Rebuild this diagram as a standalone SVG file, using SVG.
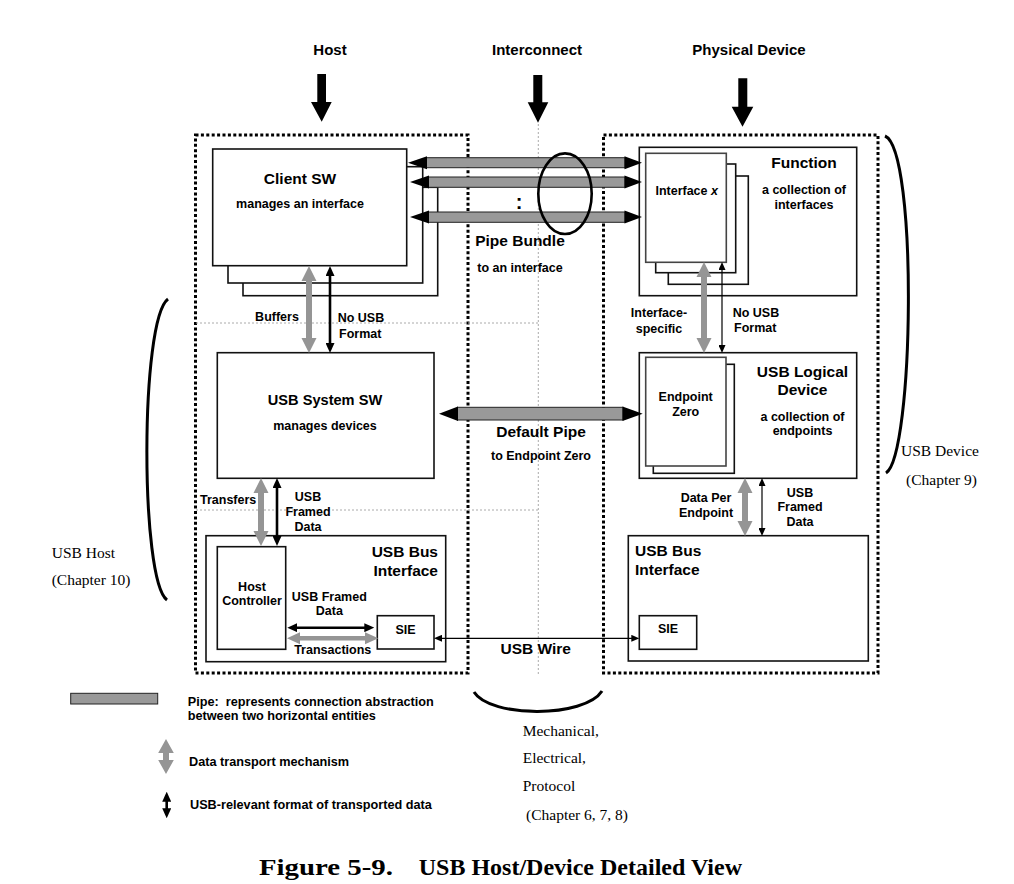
<svg xmlns="http://www.w3.org/2000/svg" width="1014" height="884" viewBox="0 0 1014 884">
<style>
.bx{fill:#fff;stroke:#111;stroke-width:1.6}
.ibx{fill:#fff;stroke:#444;stroke-width:1.6}
.dot{fill:none;stroke:#000;stroke-width:3;stroke-dasharray:3 2.4}
.gdot{fill:none;stroke:#aaa;stroke-width:1;stroke-dasharray:2 2}
.pipe{fill:#999;stroke:#222;stroke-width:1}
.ph{fill:#000}
.ga{fill:#959595}
.bk{stroke:#000;stroke-width:2.6;fill:none;marker-start:url(#hk);marker-end:url(#hk)}
.bt{stroke:#000;stroke-width:1.2;fill:none;marker-start:url(#ht);marker-end:url(#ht)}
.brk{fill:none;stroke:#000;stroke-width:3}
text{font-family:"Liberation Sans",Arial,Helvetica,sans-serif;font-weight:bold;fill:#000}
.L{font-size:15.5px}
.S{font-size:12.5px}
.H{font-size:15px}
.G{font-size:12.7px}
.sf{font-family:"Liberation Serif","Times New Roman",serif;font-weight:normal;font-size:15.5px}
.T{font-family:"Liberation Serif","Times New Roman",serif;font-size:24px}
.m{text-anchor:middle}
.e{text-anchor:end}
</style>
<defs>
<marker id="hk" viewBox="0 0 10 10" refX="5" refY="5" markerWidth="10" markerHeight="9" markerUnits="userSpaceOnUse" orient="auto-start-reverse" preserveAspectRatio="none"><path d="M0,0L10,5L0,10z" fill="#000"/></marker>
<marker id="ht" viewBox="0 0 10 10" refX="5" refY="5" markerWidth="8" markerHeight="7" markerUnits="userSpaceOnUse" orient="auto-start-reverse" preserveAspectRatio="none"><path d="M0,0L10,5L0,10z" fill="#000"/></marker>
</defs>
<rect width="1014" height="884" fill="#fff"/>

<g id="headers">
<text class="H m" x="330" y="55">Host</text>
<text class="H m" x="537" y="55">Interconnect</text>
<text class="H m" x="749" y="55">Physical Device</text>
<polygon class="ph" points="317.3,74 326,74 326,102 331.7,102 321.7,121.7 311,102 317.3,102"/>
<polygon class="ph" points="533.3,75 542.3,75 542.3,102.3 548.3,102.3 538,122.7 527.7,102.3 533.3,102.3"/>
<polygon class="ph" points="738.3,78.3 747.3,78.3 747.3,106.7 753.3,106.7 742.5,126.7 731.7,106.7 738.3,106.7"/>
</g>

<g id="regions">
<rect class="dot" x="195.5" y="135" width="272.5" height="538"/>
<rect class="dot" x="603.5" y="135" width="274.5" height="538"/>
<line class="gdot" x1="538.3" y1="124" x2="538.3" y2="676"/>
<line class="gdot" x1="196" y1="323" x2="538" y2="323"/>
<line class="gdot" x1="196" y1="510" x2="540" y2="510"/>
</g>

<g id="client-sw">
<rect class="bx" x="243" y="187.3" width="194.7" height="108.4"/>
<rect class="bx" x="228" y="166.7" width="194.7" height="116.3"/>
<rect class="bx" x="212.7" y="149" width="194" height="116.7"/>
<text class="L m" x="300" y="184">Client SW</text>
<text class="S m" x="300" y="208">manages an interface</text>
</g>

<g id="usb-system-sw">
<rect class="bx" x="217.3" y="352.7" width="216.7" height="125.6"/>
<text class="L m" x="325" y="405" style="font-size:14.6px">USB System SW</text>
<text class="S m" x="325" y="430">manages devices</text>
</g>

<g id="host-bus-interface">
<rect class="bx" x="206" y="535.7" width="239.7" height="126"/>
<text class="L e" x="438" y="556.7">USB Bus</text>
<text class="L e" x="438" y="575.7">Interface</text>
</g>

<g id="host-controller">
<rect class="bx" x="217.3" y="546.7" width="68.4" height="102.6"/>
<text class="S m" x="252" y="590.7">Host</text>
<text class="S m" x="252" y="605">Controller</text>
</g>

<g id="host-sie">
<rect class="bx" x="377.3" y="615.7" width="56.7" height="33.3"/>
<text class="S m" x="405.5" y="634">SIE</text>
</g>

<g id="function">
<rect class="bx" x="639.3" y="147.3" width="217.4" height="148.4"/>
<text class="L m" x="804" y="168.3">Function</text>
<text class="S m" x="804" y="194.3">a collection of</text>
<text class="S m" x="804" y="209.3">interfaces</text>
</g>

<g id="interface-x">
<rect class="bx" x="668.3" y="176" width="80" height="108.3"/>
<rect class="bx" x="655.7" y="164" width="80" height="108.7"/>
<rect class="ibx" x="645.7" y="153.3" width="80.6" height="109"/>
<text class="S m" x="686.7" y="195">Interface <tspan font-style="italic">x</tspan></text>
</g>

<g id="usb-logical-device">
<rect class="bx" x="639.3" y="352.7" width="217.4" height="125.6"/>
<text class="L m" x="802.5" y="376.7">USB Logical</text>
<text class="L m" x="802.5" y="395">Device</text>
<text class="S m" x="802.5" y="420.7">a collection of</text>
<text class="S m" x="802.5" y="435">endpoints</text>
</g>

<g id="endpoint-zero">
<rect class="bx" x="653.3" y="364.3" width="81" height="109"/>
<rect class="ibx" x="645.7" y="357.3" width="80.3" height="108.7"/>
<text class="S m" x="685.7" y="401">Endpoint</text>
<text class="S m" x="685.7" y="415.7">Zero</text>
</g>

<g id="device-bus-interface">
<rect class="bx" x="628.3" y="535.7" width="240" height="125.3"/>
<text class="L" x="635" y="556">USB Bus</text>
<text class="L" x="635" y="575">Interface</text>
</g>

<g id="device-sie">
<rect class="bx" x="639.3" y="615.7" width="57.4" height="33.6"/>
<text class="S m" x="668" y="633.3">SIE</text>
</g>

<g id="connectors">
<rect class="pipe" x="426.5" y="157.7" width="198.5" height="10"/>
<polygon class="ph" points="408,162.7 427,156.2 427,169.2"/>
<polygon class="ph" points="642,162.7 624.5,156.2 624.5,169.2"/>
<rect class="pipe" x="428.5" y="177" width="196.5" height="10.3"/>
<polygon class="ph" points="410,182 429,175.5 429,188.5"/>
<polygon class="ph" points="642,182 624.5,175.5 624.5,188.5"/>
<rect class="pipe" x="428.5" y="212" width="196.5" height="10.3"/>
<polygon class="ph" points="410,217 429,210.5 429,223.5"/>
<polygon class="ph" points="642,217 624.5,210.5 624.5,223.5"/>
<ellipse cx="565" cy="193.7" rx="26.7" ry="40.3" fill="none" stroke="#000" stroke-width="2.6"/>
<rect class="pipe" x="457.5" y="407.3" width="165.5" height="12.7"/>
<polygon class="ph" points="439,413.7 458,406.5 458,421"/>
<polygon class="ph" points="642.7,413.7 622.5,406.5 622.5,421"/>
<polygon class="ga" points="309,266 316.5,281 312,281 312,338 316.5,338 309,353 301.5,338 306,338 306,281 301.5,281"/>
<line class="bk" x1="330" y1="271" x2="330" y2="348"/>
<polygon class="ga" points="261,478 268.5,493 264,493 264,531 268.5,531 261,546 253.5,531 258,531 258,493 253.5,493"/>
<line class="bk" x1="277" y1="483" x2="277" y2="541"/>
<polygon class="ga" points="704,262 711.5,277 707,277 707,338 711.5,338 704,353 696.5,338 701,338 701,277 696.5,277"/>
<line class="bt" x1="722" y1="266" x2="722" y2="349"/>
<polygon class="ga" points="745,478 752.5,493 748,493 748,521 752.5,521 745,536 737.5,521 742,521 742,493 737.5,493"/>
<line class="bt" x1="762" y1="482" x2="762" y2="532"/>
<line class="bk" x1="292.3" y1="627.7" x2="369.3" y2="627.7"/>
<polygon class="ga" points="287,638.3 300,632.3 300,636 365,636 365,632.3 378.3,638.3 365,644.3 365,640.6 300,640.6 300,644.3"/>
<line class="bt" x1="438" y1="638.3" x2="635.3" y2="638.3"/>
</g>

<g id="labels">
<text class="H" x="519" y="209" text-anchor="middle" style="font-size:20px">:</text>
<text class="L m" x="520" y="246">Pipe Bundle</text>
<text class="S m" x="520" y="271.5">to an interface</text>
<text class="S m" x="277" y="320.7">Buffers</text>
<text class="S" x="337.7" y="321.7">No USB</text>
<text class="S" x="339" y="337.7">Format</text>
<text class="L m" x="541" y="436.7">Default Pipe</text>
<text class="S m" x="541" y="459.5">to Endpoint Zero</text>
<text class="S" x="200" y="504">Transfers</text>
<text class="S m" x="308" y="500.7">USB</text>
<text class="S m" x="308" y="515.7">Framed</text>
<text class="S m" x="308" y="530.7">Data</text>
<text class="S m" x="329.3" y="600.7">USB Framed</text>
<text class="S m" x="329.3" y="615">Data</text>
<text class="S m" x="332.7" y="654">Transactions</text>
<text class="L m" x="535.7" y="654">USB Wire</text>
<text class="S m" x="659" y="317.3">Interface-</text>
<text class="S m" x="659" y="332.7">specific</text>
<text class="S" x="732.7" y="316.7">No USB</text>
<text class="S" x="734" y="331.7">Format</text>
<text class="S m" x="706" y="501.7">Data Per</text>
<text class="S m" x="706" y="516.7">Endpoint</text>
<text class="S m" x="800" y="496.7">USB</text>
<text class="S m" x="800" y="510.7">Framed</text>
<text class="S m" x="800" y="526">Data</text>
</g>

<g id="brackets">
<path class="brk" d="M168,299 C140,320 140,580 167,600"/>
<text class="sf" x="51.7" y="558.3">USB Host</text>
<text class="sf" x="51.7" y="585">(Chapter 10)</text>
<path class="brk" d="M885,136 C918,150 914,455 886,473"/>
<text class="sf" x="901" y="456">USB Device</text>
<text class="sf" x="906" y="485">(Chapter 9)</text>
<path class="brk" d="M474,692 C490,718 585,718 602,691"/>
<text class="sf" x="522.7" y="736">Mechanical,</text>
<text class="sf" x="522.7" y="763.3">Electrical,</text>
<text class="sf" x="522.7" y="791">Protocol</text>
<text class="sf" x="526" y="820">(Chapter 6, 7, 8)</text>
</g>

<g id="legend">
<rect class="pipe" x="70.7" y="693.3" width="87" height="10.7"/>
<text class="G" x="187.7" y="706" xml:space="preserve">Pipe:  represents connection abstraction</text>
<text class="G" x="187.7" y="720">between two horizontal entities</text>
<polygon class="ga" points="166,739 173.8,753 169,753 169,760 173.8,760 166,774 158.2,760 163,760 163,753 158.2,753"/>
<text class="G" x="189" y="766">Data transport mechanism</text>
<line class="bk" x1="166.7" y1="796.7" x2="166.7" y2="813.3"/>
<text class="G" x="190" y="809">USB-relevant format of transported data</text>
</g>

<g id="title">
<text class="T" x="259" y="875" textLength="134" lengthAdjust="spacingAndGlyphs">Figure 5-9.</text>
<text class="T e" x="742" y="875">USB Host/Device Detailed View</text>
</g>
</svg>
